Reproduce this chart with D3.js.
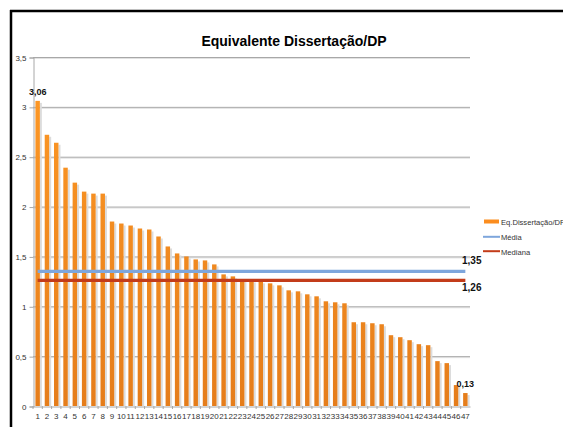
<!DOCTYPE html>
<html><head><meta charset="utf-8">
<script src="https://cdn.jsdelivr.net/npm/d3@7"></script>
<style>html,body{margin:0;padding:0;background:#fff;overflow:hidden}svg{display:block;font-family:"Liberation Sans",Arial,sans-serif}</style>
</head><body>
<script>
const title = "Equivalente Dissertação/DP";
const categories = d3.range(1, 48).map(String);
const values = [3.06,2.72,2.64,2.39,2.24,2.15,2.13,2.13,1.85,1.83,1.81,1.78,1.77,1.70,1.60,1.53,1.50,1.47,1.46,1.42,1.32,1.30,1.27,1.26,1.25,1.23,1.21,1.16,1.15,1.12,1.10,1.05,1.04,1.03,0.84,0.84,0.83,0.82,0.71,0.69,0.66,0.62,0.61,0.45,0.43,0.21,0.13];
const meanValue = 1.35, meanLabel = "1,35";
const medianValue = 1.26, medianLabel = "1,26";
const yTicks = [0,0.5,1,1.5,2,2.5,3,3.5];
const yTickLabels = ["0","0,5","1","1,5","2","2,5","3","3,5"];
const seriesNames = ["Eq.Dissertação/DP","Média","Mediana"];
const pointLabels = [{i:0,text:"3,06"},{i:46,text:"0,13"}];

const W = 563, H = 427;
const svg = d3.select("body").append("svg").attr("width", W).attr("height", H);
svg.append("rect").attr("width", W).attr("height", H).attr("fill", "#fff");

const x = d3.scaleBand().domain(categories).range([33, 470]).paddingInner(0.52).paddingOuter(0.26);
const y = d3.scaleLinear().domain([0, 3.5]).range([406, 57]);

const defs = svg.append("defs");
const g = defs.append("linearGradient").attr("id","barg").attr("gradientUnits","userSpaceOnUse")
  .attr("x1",0).attr("y1",y(3.5)).attr("x2",0).attr("y2",y(0));
g.append("stop").attr("offset","0%").attr("stop-color","#ff9a26");
g.append("stop").attr("offset","100%").attr("stop-color","#e57d1b");

// frame
svg.append("line").attr("x1",10).attr("x2",W).attr("y1",11).attr("y2",11).attr("stroke","#000").attr("stroke-width",2.5);
svg.append("line").attr("x1",11).attr("x2",11).attr("y1",10).attr("y2",H).attr("stroke","#000").attr("stroke-width",2.5);

// title
svg.append("text").attr("x",294).attr("y",46).attr("text-anchor","middle")
  .attr("font-size",14).attr("font-weight","bold").attr("fill","#000").text(title);

// gridlines
yTicks.filter(d => d > 0).forEach(d => {
  svg.append("line").attr("x1",33).attr("x2",470).attr("y1",y(d)+1.5).attr("y2",y(d)+1.5).attr("stroke","#e2e2e2").attr("stroke-width",1);
  svg.append("line").attr("x1",33).attr("x2",470).attr("y1",y(d)+0.5).attr("y2",y(d)+0.5).attr("stroke","#a8a8a8").attr("stroke-width",1);
});

// y axis
const ya = svg.append("g").attr("transform","translate(33.5,0.5)")
  .call(d3.axisLeft(y).tickValues(yTicks).tickFormat((d,i)=>yTickLabels[i]).tickSize(4).tickPadding(3));
ya.select(".domain").attr("stroke","#a8a8a8");
ya.selectAll(".tick line").attr("stroke","#a8a8a8");
ya.selectAll("text").attr("font-size",8).attr("fill","#333").attr("font-family","Liberation Sans, Arial, sans-serif");

// bar shadows and bars
svg.append("g").selectAll("rect").data(values).join("rect")
  .attr("x",(d,i)=>x(categories[i])+x.bandwidth()).attr("width",2)
  .attr("y",d=>y(d)+2).attr("height",d=>y(0)-y(d)-2).attr("fill","#dcdcdc");
svg.append("g").selectAll("rect").data(values).join("rect")
  .attr("x",(d,i)=>x(categories[i])).attr("width",x.bandwidth())
  .attr("y",d=>y(d)).attr("height",d=>y(0)-y(d)).attr("fill","url(#barg)");

// x axis
const xa = svg.append("g").attr("transform","translate(0,406.5)")
  .call(d3.axisBottom(x).tickSize(0).tickPadding(7));
xa.select(".domain").attr("stroke","#a8a8a8");
xa.selectAll("text").attr("font-size",8).attr("fill","#333").attr("font-family","Liberation Sans, Arial, sans-serif");
svg.append("g").selectAll("line").data(categories.slice(0)).join("line")
  .attr("x1",d=>x(d)-x.step()*0.26).attr("x2",d=>x(d)-x.step()*0.26)
  .attr("y1",406).attr("y2",409).attr("stroke","#a8a8a8");

// mean / median lines
const lx1 = x(categories[0]) + x.bandwidth()/2, lx2 = x(categories[46]) + x.bandwidth()/2;
svg.append("line").attr("x1",lx1).attr("x2",lx2).attr("y1",y(meanValue)).attr("y2",y(meanValue))
  .attr("stroke","#7ea6dc").attr("stroke-width",3.2);
svg.append("line").attr("x1",lx1).attr("x2",lx2).attr("y1",y(medianValue)).attr("y2",y(medianValue))
  .attr("stroke","#c33c1a").attr("stroke-width",3.2);
svg.append("text").attr("x",462).attr("y",y(meanValue)-7).attr("font-size",10).attr("font-weight","bold").attr("fill","#111").text(meanLabel);
svg.append("text").attr("x",462).attr("y",y(medianValue)+11).attr("font-size",10).attr("font-weight","bold").attr("fill","#111").text(medianLabel);

// point labels
pointLabels.forEach(p => {
  svg.append("text").attr("x",x(categories[p.i])+x.bandwidth()/2).attr("y",y(values[p.i])-6)
    .attr("text-anchor","middle").attr("font-size",9).attr("font-weight","bold").attr("fill","#111").text(p.text);
});

// legend
const lg = svg.append("g");
lg.append("rect").attr("x",484).attr("y",219.5).attr("width",15).attr("height",4).attr("fill","#fb8d1f");
lg.append("line").attr("x1",483).attr("x2",500).attr("y1",236.8).attr("y2",236.8).attr("stroke","#7ea6dc").attr("stroke-width",2);
lg.append("line").attr("x1",483).attr("x2",500).attr("y1",251.2).attr("y2",251.2).attr("stroke","#c33c1a").attr("stroke-width",2);
[225, 240, 255].forEach((yy,i) => {
  lg.append("text").attr("x",501).attr("y",yy).attr("font-size",7.6).attr("fill","#333").text(seriesNames[i]);
});
</script>
</body></html>
